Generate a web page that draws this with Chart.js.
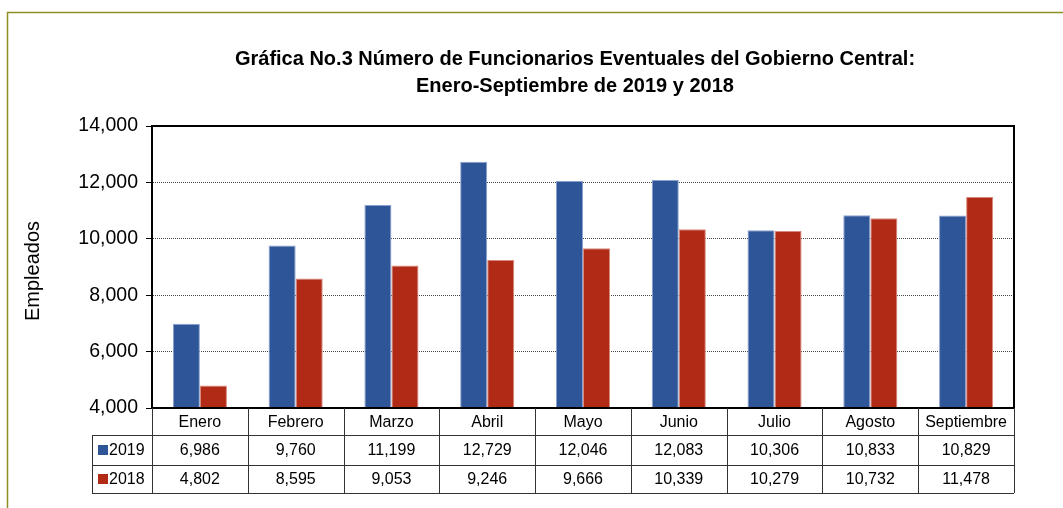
<!DOCTYPE html>
<html>
<head>
<meta charset="utf-8">
<script src="https://cdn.jsdelivr.net/npm/chart.js@4"></script>
<style>
  html, body { margin: 0; padding: 0; background: #fff; }
  #wrap { width: 1063px; height: 508px; position: relative; }
</style>
</head>
<body>
<div id="wrap"><canvas id="myChart" width="1063" height="508"></canvas></div>
<script>
const months = ['Enero', 'Febrero', 'Marzo', 'Abril', 'Mayo', 'Junio', 'Julio', 'Agosto', 'Septiembre'];
const values2019 = [6986, 9760, 11199, 12729, 12046, 12083, 10306, 10833, 10829];
const values2018 = [4802, 8595, 9053, 9246, 9666, 10339, 10279, 10732, 11478];
const seriesNames = ['2019', '2018'];
const yTicks = [4000, 6000, 8000, 10000, 12000, 14000];
const titleLines = ['Gráfica No.3 Número de Funcionarios Eventuales del Gobierno Central:', 'Enero-Septiembre de 2019 y 2018'];
const yTitle = 'Empleados';

const FONT = '"Liberation Sans", Arial, sans-serif';
const BLUE = '#2e5597';
const RED = '#b02a16';

// draws frame, titles, plot border and the data table under the x axis
const decorPlugin = {
  id: 'decor',
  beforeDraw(chart) {
    const ctx = chart.ctx;
    ctx.save();
    ctx.fillStyle = '#fff';
    ctx.fillRect(0, 0, chart.width, chart.height);
    ctx.strokeStyle = '#8f8f24';
    ctx.lineWidth = 1.5;
    ctx.beginPath();
    ctx.moveTo(7.5, chart.height + 2);
    ctx.lineTo(7.5, 12.5);
    ctx.lineTo(chart.width + 2, 12.5);
    ctx.stroke();
    ctx.restore();
  },
  afterDraw(chart) {
    const ctx = chart.ctx;
    const area = chart.chartArea;
    const x = chart.scales.x;
    const rows = [values2019, values2018];
    const colors = [BLUE, RED];
    ctx.save();

    // title
    ctx.fillStyle = '#000';
    ctx.font = 'bold 20px ' + FONT;
    ctx.textAlign = 'center';
    ctx.textBaseline = 'middle';
    ctx.fillText(titleLines[0], 575, 59);
    ctx.fillText(titleLines[1], 575, 86);

    // y axis title
    ctx.save();
    ctx.translate(33, 271);
    ctx.rotate(-Math.PI / 2);
    ctx.font = '20px ' + FONT;
    ctx.fillText(yTitle, 0, 0);
    ctx.restore();

    // plot border
    ctx.strokeStyle = '#000';
    ctx.lineWidth = 2;
    ctx.strokeRect(area.left, area.top, area.right - area.left, area.bottom - area.top);

    // data table
    const rowH = [27, 30, 28];
    const y0 = area.bottom;
    const y1 = y0 + rowH[0];
    const y2 = y1 + rowH[1];
    const y3 = y2 + rowH[2];
    const keyLeft = 92;
    const half = (x.getPixelForValue(1) - x.getPixelForValue(0)) / 2;

    ctx.strokeStyle = '#333';
    ctx.lineWidth = 1;
    ctx.beginPath();
    [y1, y2, y3].forEach(yy => {
      ctx.moveTo(keyLeft, Math.round(yy) + 0.5);
      ctx.lineTo(area.right, Math.round(yy) + 0.5);
    });
    ctx.moveTo(keyLeft + 0.5, y1);
    ctx.lineTo(keyLeft + 0.5, y3);
    for (let i = 0; i <= months.length; i++) {
      const px = Math.round(x.getPixelForValue(i) - half) + 0.5;
      ctx.moveTo(px, y0);
      ctx.lineTo(px, y3);
    }
    ctx.stroke();

    ctx.fillStyle = '#000';
    ctx.font = '16px ' + FONT;
    ctx.textAlign = 'center';
    months.forEach((m, i) => {
      const cx = x.getPixelForValue(i);
      ctx.fillText(m, cx, (y0 + y1) / 2 + 1);
      rows.forEach((r, j) => {
        const cy = j === 0 ? (y1 + y2) / 2 : (y2 + y3) / 2;
        ctx.fillText(r[i].toLocaleString('en-US'), cx, cy + 1);
      });
    });

    seriesNames.forEach((name, j) => {
      const cy = j === 0 ? (y1 + y2) / 2 : (y2 + y3) / 2;
      ctx.fillStyle = colors[j];
      ctx.fillRect(keyLeft + 6, cy - 5, 10, 10);
      ctx.fillStyle = '#000';
      ctx.textAlign = 'left';
      ctx.fillText(name, keyLeft + 17, cy + 1);
    });
    ctx.restore();
  }
};

function initChart(target) {
  const chart = new Chart(target, {
    type: 'bar',
    data: {
      labels: months,
      datasets: [{
        label: seriesNames[0],
        data: values2019,
        backgroundColor: BLUE,
        borderColor: '#8aa2cf',
        borderWidth: 1
      }, {
        label: seriesNames[1],
        data: values2018,
        backgroundColor: RED,
        borderColor: '#d98a7e',
        borderWidth: 1
      }]
    },
    options: {
      responsive: false,
      animation: false,
      layout: { padding: { top: 126, right: 49, bottom: 100, left: 0 } },
      datasets: { bar: { categoryPercentage: 0.565, barPercentage: 1 } },
      plugins: { legend: { display: false }, title: { display: false }, tooltip: { enabled: false } },
      scales: {
        x: {
          ticks: { display: false },
          grid: { display: false },
          border: { display: false },
          afterFit: (s) => { s.height = 0; }
        },
        y: {
          min: 4000,
          max: 14000,
          afterFit: (s) => { s.width = 152; },
          afterBuildTicks: (s) => { s.ticks = yTicks.map(v => ({ value: v })); },
          ticks: {
            color: '#000',
            padding: 8,
            font: { family: FONT, size: 19.5 },
            callback: (v) => v.toLocaleString('en-US')
          },
          grid: { color: '#444', tickLength: 6, tickColor: '#000', lineWidth: 1 },
          border: { color: '#000', width: 2, dash: [1, 1] }
        }
      }
    },
    plugins: [decorPlugin]
  });
  return chart;
}

document.addEventListener('DOMContentLoaded', () => initChart(document.querySelector('#myChart')));
</script>
</body>
</html>
